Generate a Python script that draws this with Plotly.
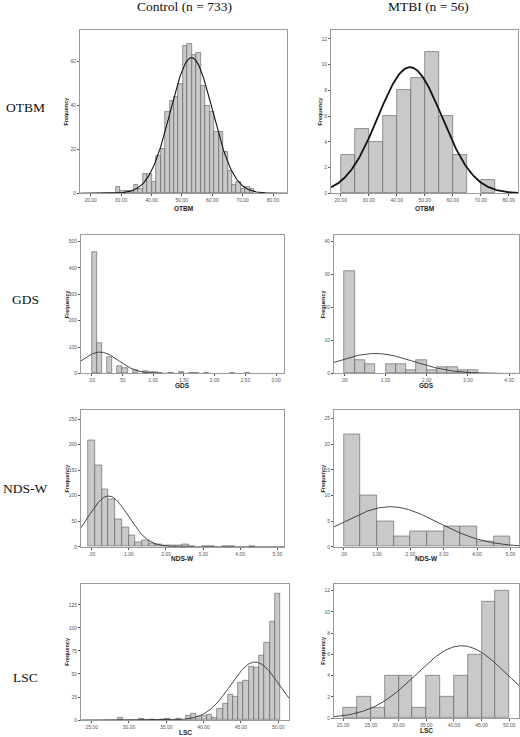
import numpy as np
import plotly.graph_objects as go

W, H = 520, 737

# ---------------- data ----------------
col_titles = ["Control (n = 733)", "MTBI (n = 56)"]
row_titles = ["OTBM", "GDS", "NDS-W", "LSC"]

# Control OTBM
otbm_ctrl_counts = [3, 1, 1, 1, 4, 2, 9, 9, 5, 17, 20, 37, 42, 44, 50, 67, 68, 63, 64,
                    49, 40, 37, 28, 28, 19, 10, 4, 5, 2, 3, 2]
otbm_ctrl_bin_start, otbm_ctrl_bin_width = 28.35, 1.467
otbm_ctrl_fit = dict(n=733, mean=53.2, sd=6.95)

# MTBI OTBM
otbm_mtbi_counts = [3, 5, 4, 6, 8, 9, 11, 6, 3, 0, 1]
otbm_mtbi_bin_start, otbm_mtbi_bin_width = 20.0, 5.0
otbm_mtbi_fit = dict(n=56, mean=44.7, sd=11.4)

# Control GDS
gds_ctrl_counts = [462, 117, 0, 62, 0, 30, 22, 0, 12, 0, 8, 4, 5, 3, 0, 2, 0, 7, 0,
                   2, 3, 0, 1, 0, 0, 0, 0, 1, 0, 0, 3]
gds_ctrl_bin_start, gds_ctrl_bin_width = 0.0, 1 / 12
gds_ctrl_fit = dict(n=733, mean=0.134, sd=0.30)

# MTBI GDS
gds_mtbi_counts = [31, 4, 3, 0, 3, 3, 1, 4, 1, 2, 2, 1, 1]
gds_mtbi_bin_start, gds_mtbi_bin_width = 0.0, 0.25
gds_mtbi_fit = dict(n=56, mean=0.75, sd=0.92)

# Control NDS-W
nds_ctrl_counts = [209, 159, 113, 93, 54, 38, 22, 8, 12, 7, 4, 3, 2, 2, 5, 1, 0, 1, 1,
                   0, 1, 1, 0, 0, 1]
nds_ctrl_bin_start, nds_ctrl_bin_width = -0.09, 0.18
nds_ctrl_fit = dict(n=733, mean=0.45, sd=0.53)

# MTBI NDS-W
nds_mtbi_counts = [22, 10, 5, 2, 3, 3, 4, 4, 1, 2]
nds_mtbi_bin_start, nds_mtbi_bin_width = 0.0, 0.5
nds_mtbi_fit = dict(n=56, mean=1.4, sd=1.43)

# Control LSC (listed from left to right)
lsc_ctrl_counts = [3, 0, 0, 0, 2, 0, 1, 0, 1, 2, 0, 2, 0, 5, 7, 4, 5, 6, 3, 12, 18,
                   28, 25, 41, 43, 58, 57, 70, 84, 107, 137]
lsc_ctrl_bin_start, lsc_ctrl_bin_width = 28.54, 0.7
lsc_ctrl_fit = dict(n=733, mean=46.9, sd=3.25)

# MTBI LSC
lsc_mtbi_counts = [1, 2, 1, 4, 4, 1, 4, 2, 4, 6, 11, 12]
lsc_mtbi_bin_start, lsc_mtbi_bin_width = 20.0, 2.5
lsc_mtbi_fit = dict(n=56, mean=41.4, sd=8.2)

# tick labels
otbm_x_ticks = [20, 30, 40, 50, 60, 70, 80]
otbm_x_text = ["20.00", "30.00", "40.00", "50.00", "60.00", "70.00", "80.00"]
gds_ctrl_x_ticks = [0, 0.5, 1, 1.5, 2, 2.5, 3]
gds_ctrl_x_text = [".00", ".50", "1.00", "1.50", "2.00", "2.50", "3.00"]
gds_mtbi_x_ticks = [0, 1, 2, 3, 4]
gds_mtbi_x_text = [".00", "1.00", "2.00", "3.00", "4.00"]
nds_x_ticks = [0, 1, 2, 3, 4, 5]
nds_x_text = [".00", "1.00", "2.00", "3.00", "4.00", "5.00"]
lsc_ctrl_x_ticks = [25, 30, 35, 40, 45, 50]
lsc_ctrl_x_text = ["25.00", "30.00", "35.00", "40.00", "45.00", "50.00"]
lsc_mtbi_x_ticks = [20, 25, 30, 35, 40, 45, 50]
lsc_mtbi_x_text = ["20.00", "25.00", "30.00", "35.00", "40.00", "45.00", "50.00"]

otbm_ctrl_y_ticks = [0, 20, 40, 60]
otbm_mtbi_y_ticks = [0, 2, 4, 6, 8, 10, 12]
gds_ctrl_y_ticks = [0, 100, 200, 300, 400, 500]
gds_mtbi_y_ticks = [0, 10, 20, 30, 40]
nds_ctrl_y_ticks = [0, 50, 100, 150, 200, 250]
nds_mtbi_y_ticks = [0, 5, 10, 15, 20, 25]
lsc_ctrl_y_ticks = [0, 25, 50, 75, 100, 125]
lsc_mtbi_y_ticks = [0, 2, 4, 6, 8, 10, 12]

# ---------------- layout geometry (pixels) ----------------
panels = [
    dict(counts=otbm_ctrl_counts, start=otbm_ctrl_bin_start, w=otbm_ctrl_bin_width, fit=otbm_ctrl_fit,
         box=(80, 287, 30, 194), xr=(16.5, 84.6), yr=(0, 74.4),
         xt=otbm_x_ticks, xl=otbm_x_text, yt=otbm_ctrl_y_ticks, title="OTBM",
         curve_color="#111", curve_w=1.1, col=0),
    dict(counts=otbm_mtbi_counts, start=otbm_mtbi_bin_start, w=otbm_mtbi_bin_width, fit=otbm_mtbi_fit,
         box=(331, 518, 30, 194), xr=(16.5, 83.3), yr=(0, 12.7),
         xt=otbm_x_ticks, xl=otbm_x_text, yt=otbm_mtbi_y_ticks, title="OTBM",
         curve_color="#111", curve_w=1.8, col=1),
    dict(counts=gds_ctrl_counts, start=gds_ctrl_bin_start, w=gds_ctrl_bin_width, fit=gds_ctrl_fit,
         box=(81, 284, 236, 375), xr=(-0.174, 3.13), yr=(0, 525),
         xt=gds_ctrl_x_ticks, xl=gds_ctrl_x_text, yt=gds_ctrl_y_ticks, title="GDS",
         curve_color="#333", curve_w=0.9, col=0),
    dict(counts=gds_mtbi_counts, start=gds_mtbi_bin_start, w=gds_mtbi_bin_width, fit=gds_mtbi_fit,
         box=(334, 519, 236, 375), xr=(-0.25, 4.24), yr=(0, 42),
         xt=gds_mtbi_x_ticks, xl=gds_mtbi_x_text, yt=gds_mtbi_y_ticks, title="GDS",
         curve_color="#333", curve_w=0.9, col=1),
    dict(counts=nds_ctrl_counts, start=nds_ctrl_bin_start, w=nds_ctrl_bin_width, fit=nds_ctrl_fit,
         box=(81, 284, 412, 549), xr=(-0.29, 5.18), yr=(0, 267),
         xt=nds_x_ticks, xl=nds_x_text, yt=nds_ctrl_y_ticks, title="NDS-W",
         curve_color="#333", curve_w=0.9, col=0),
    dict(counts=nds_mtbi_counts, start=nds_mtbi_bin_start, w=nds_mtbi_bin_width, fit=nds_mtbi_fit,
         box=(334, 519, 412, 549), xr=(-0.29, 5.26), yr=(0, 26.6),
         xt=nds_x_ticks, xl=nds_x_text, yt=nds_mtbi_y_ticks, title="NDS-W",
         curve_color="#333", curve_w=0.9, col=1),
    dict(counts=lsc_ctrl_counts, start=lsc_ctrl_bin_start, w=lsc_ctrl_bin_width, fit=lsc_ctrl_fit,
         box=(81, 289, 586, 723), xr=(23.57, 51.45), yr=(0, 148),
         xt=lsc_ctrl_x_ticks, xl=lsc_ctrl_x_text, yt=lsc_ctrl_y_ticks, title="LSC",
         curve_color="#333", curve_w=0.9, col=0),
    dict(counts=lsc_mtbi_counts, start=lsc_mtbi_bin_start, w=lsc_mtbi_bin_width, fit=lsc_mtbi_fit,
         box=(334, 519, 586, 721), xr=(18.32, 51.77), yr=(0, 12.66),
         xt=lsc_mtbi_x_ticks, xl=lsc_mtbi_x_text, yt=lsc_mtbi_y_ticks, title="LSC",
         curve_color="#333", curve_w=0.9, col=1),
]

fig = go.Figure()
layout = dict(
    width=W, height=H, margin=dict(l=0, r=0, t=0, b=0),
    paper_bgcolor="white", plot_bgcolor="white", showlegend=False,
    bargap=0, annotations=[],
)

tick_font = dict(family="Liberation Sans, Arial", size=5, color="#555")
label_font = dict(family="Liberation Sans, Arial", size=6.5, color="#222")

for i, p in enumerate(panels, start=1):
    xa, ya = f"x{i}", f"y{i}"
    x0, x1, yt_, yb_ = p["box"]
    counts = p["counts"]
    centers = [p["start"] + p["w"] * (k + 0.5) for k in range(len(counts))]
    yvals = [c if c > 0 else None for c in counts]
    fig.add_trace(go.Bar(
        x=centers, y=yvals, width=p["w"], xaxis=xa, yaxis=ya,
        marker=dict(color="#c9c9c9", line=dict(color="#5a5a5a", width=0.6)),
        hoverinfo="skip",
    ))
    f = p["fit"]
    xs = np.linspace(p["xr"][0], p["xr"][1], 300)
    ys = f["n"] * p["w"] / (f["sd"] * np.sqrt(2 * np.pi)) * np.exp(-0.5 * ((xs - f["mean"]) / f["sd"]) ** 2)
    fig.add_trace(go.Scatter(
        x=xs, y=ys, mode="lines", xaxis=xa, yaxis=ya,
        line=dict(color=p["curve_color"], width=p["curve_w"]), hoverinfo="skip",
    ))
    key = "" if i == 1 else str(i)
    layout["xaxis" + key] = dict(
        domain=[x0 / W, x1 / W], range=list(p["xr"]), anchor=ya,
        tickvals=p["xt"], ticktext=p["xl"], ticks="outside", ticklen=2,
        tickwidth=0.6, tickcolor="#555", tickfont=tick_font,
        showline=True, mirror=True, linecolor="#9a9a9a", linewidth=1,
        showgrid=False, zeroline=False, fixedrange=True,
    )
    layout["yaxis" + key] = dict(
        domain=[1 - yb_ / H, 1 - yt_ / H], range=list(p["yr"]), anchor=xa,
        tickvals=p["yt"], ticktext=[str(v) for v in p["yt"]], ticks="outside", ticklen=2,
        tickwidth=0.6, tickcolor="#555", tickfont=tick_font,
        showline=True, mirror=True, linecolor="#9a9a9a", linewidth=1,
        showgrid=False, zeroline=False, fixedrange=True,
    )
    # x axis title
    x_title_off = 15 if i <= 2 else 12
    layout["annotations"].append(dict(
        text="<b>%s</b>" % p["title"], xref="paper", yref="paper",
        x=(x0 + x1) / 2 / W, y=1 - (yb_ + x_title_off) / H,
        xanchor="center", yanchor="middle", showarrow=False, font=label_font,
    ))
    # y axis title
    y_off = 14 if p["col"] == 0 else 11
    layout["annotations"].append(dict(
        text="<b>Frequency</b>", xref="paper", yref="paper",
        x=(x0 - y_off) / W, y=1 - (yt_ + yb_) / 2 / H, textangle=-90,
        xanchor="center", yanchor="middle", showarrow=False,
        font=dict(family="Liberation Sans, Arial", size=5.5, color="#222"),
    ))

serif = dict(family="Liberation Serif, Times New Roman", size=13.5, color="#111")
for txt, cx in zip(col_titles, [184, 428]):
    layout["annotations"].append(dict(
        text=txt, xref="paper", yref="paper", x=cx / W, y=1 - 7 / H,
        xanchor="center", yanchor="middle", showarrow=False, font=serif,
    ))
for txt, cy in zip(row_titles, [108, 301, 490, 680]):
    layout["annotations"].append(dict(
        text=txt, xref="paper", yref="paper", x=25 / W, y=1 - cy / H,
        xanchor="center", yanchor="middle", showarrow=False, font=serif,
    ))

fig.update_layout(**layout)
fig.write_html("out.html")
